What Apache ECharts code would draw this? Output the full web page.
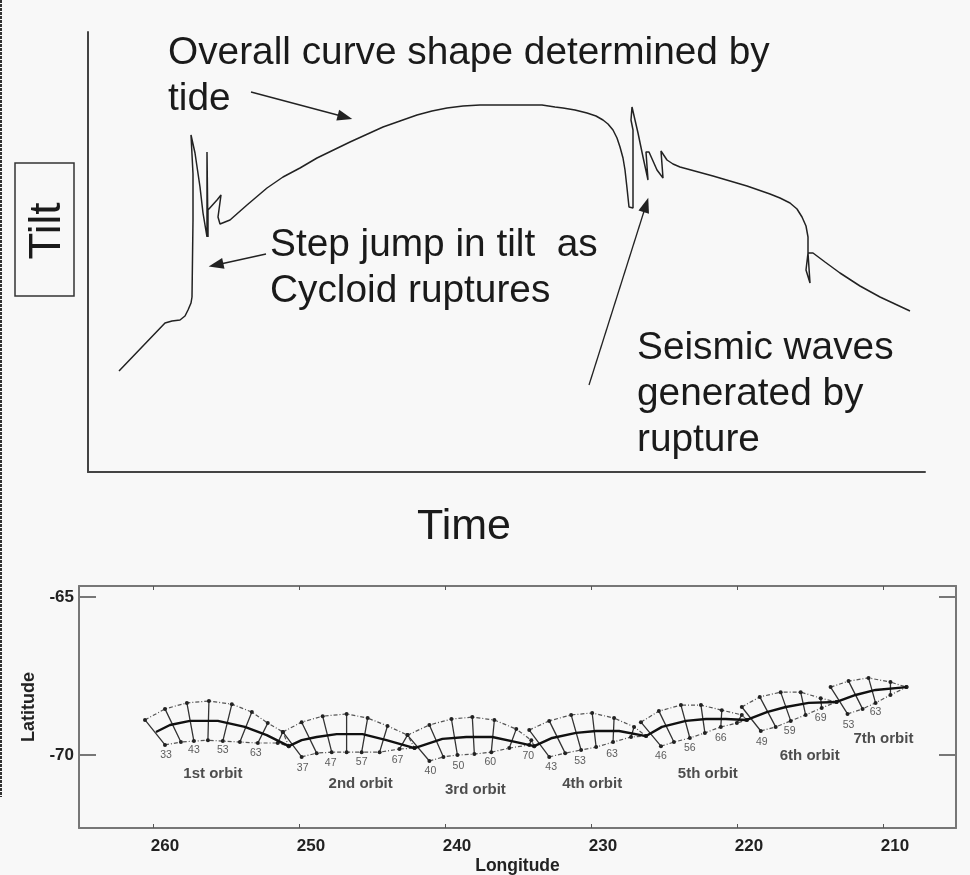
<!DOCTYPE html>
<html><head><meta charset="utf-8">
<style>html,body{margin:0;padding:0;background:#f8f8f8}#c{width:970px;height:875px}</style>
<script src="https://cdn.jsdelivr.net/npm/echarts@6/dist/echarts.min.js"></script>
</head><body><div id="c"></div>
<script>
// Upper panel: schematic tilt curve (arbitrary units)
const tiltCurve = [[31,101],[77,149],[84,151],[92,152],[97,156],[100,162],[103,169],[104,175],[105,252],[105,298],[103,298],[103,337],[105,338],[107,319],[112,285],[115,259],[119,235],[119,320],[120,320],[120,235],[120,262],[129,272],[133,277],[134,277],[130,255],[132,248],[142,252],[159,267],[179,284],[195,295],[212,304],[229,314],[262,330],[295,345],[312,351],[329,357],[344,361],[359,364],[375,366],[392,367],[454,367],[467,365],[475,364],[487,362],[499,359],[508,356],[515,352],[520,348],[525,342],[529,334],[532,325],[535,314],[537,302],[539,284],[541,265],[545,264],[545,342],[543,352],[544,365],[546,365],[550,339],[555,315],[560,292],[558,320],[561,320],[569,302],[575,294],[573,321],[579,312],[585,308],[592,305],[625,296],[659,286],[682,278],[692,274],[702,269],[709,263],[714,255],[718,246],[720,235],[720,219],[718,217],[718,202],[722,189],[720,219],[725,219],[737,210],[752,199],[772,186],[792,175],[807,168],[822,161]];
const tideArrow = [[163,380],[257,355]];
const stepArrow = [[178,218],[128,207]];
const seismicArrow = [[501,87],[558,267]];

// Lower panel: orbit tracks [longitude, latitude]
const orbit1Center = [[259.80,-69.27],[258.84,-69.05],[257.47,-68.92],[255.56,-68.92],[253.71,-69.11],[252.21,-69.37],[250.70,-69.72]];
const orbit1Upper = [[260.55,-68.89],[259.18,-68.54],[257.68,-68.35],[256.17,-68.29],[254.60,-68.39],[253.23,-68.64],[252.14,-68.99],[251.11,-69.27],[250.70,-69.72]];
const orbit1Lower = [[259.18,-69.68],[258.09,-69.59],[257.20,-69.56],[256.24,-69.53],[255.22,-69.56],[254.05,-69.59],[252.82,-69.62],[251.46,-69.62],[250.70,-69.72]];
const orbit2Center = [[250.70,-69.72],[249.82,-69.53],[248.79,-69.43],[247.42,-69.34],[245.65,-69.34],[244.01,-69.53],[242.09,-69.78]];
const orbit2Upper = [[251.11,-69.27],[249.82,-68.96],[248.38,-68.77],[246.74,-68.70],[245.30,-68.83],[243.94,-69.08],[242.57,-69.37],[242.09,-69.78]];
const orbit2Lower = [[249.82,-70.06],[248.79,-69.94],[247.76,-69.91],[246.74,-69.91],[245.71,-69.91],[244.48,-69.91],[243.12,-69.81],[242.09,-69.78]];
const orbit3Center = [[242.09,-69.78],[240.18,-69.49],[238.54,-69.43],[236.76,-69.43],[235.12,-69.59],[233.89,-69.72]];
const orbit3Upper = [[242.57,-69.37],[241.07,-69.05],[239.56,-68.86],[238.13,-68.80],[236.62,-68.89],[235.12,-69.18],[234.09,-69.53],[233.89,-69.72]];
const orbit3Lower = [[241.07,-70.19],[240.11,-70.06],[239.15,-70.00],[237.99,-69.97],[236.83,-69.91],[235.60,-69.78],[234.23,-69.68],[233.89,-69.72]];
const orbit4Center = [[233.89,-69.72],[232.66,-69.46],[231.02,-69.30],[229.65,-69.24],[228.08,-69.24],[226.23,-69.40]];
const orbit4Upper = [[234.23,-69.21],[232.86,-68.92],[231.36,-68.73],[229.92,-68.67],[228.42,-68.83],[227.05,-69.11],[226.23,-69.40]];
const orbit4Lower = [[232.86,-70.06],[231.77,-69.94],[230.68,-69.84],[229.65,-69.75],[228.49,-69.59],[227.26,-69.43],[226.23,-69.40]];
const orbit5Center = [[226.23,-69.40],[225.14,-69.11],[223.50,-68.92],[222.13,-68.86],[220.77,-68.86],[219.33,-68.89]];
const orbit5Upper = [[226.58,-68.96],[225.35,-68.61],[223.84,-68.42],[222.47,-68.42],[221.04,-68.58],[219.67,-68.73],[219.33,-68.89]];
const orbit5Lower = [[225.21,-69.72],[224.32,-69.59],[223.23,-69.46],[222.20,-69.30],[221.11,-69.11],[220.01,-68.99],[219.33,-68.89]];
const orbit6Center = [[219.33,-68.89],[217.96,-68.64],[216.66,-68.48],[215.09,-68.35],[213.18,-68.32]];
const orbit6Upper = [[219.67,-68.48],[218.44,-68.16],[217.01,-68.01],[215.64,-68.01],[214.27,-68.20],[213.18,-68.32]];
const orbit6Lower = [[218.37,-69.24],[217.35,-69.11],[216.32,-68.92],[215.30,-68.73],[214.20,-68.51],[213.18,-68.32]];
const orbit7Center = [[213.18,-68.32],[211.88,-68.10],[210.51,-67.94],[208.39,-67.85]];
const orbit7Upper = [[213.59,-67.85],[212.36,-67.66],[210.99,-67.56],[209.49,-67.69],[208.39,-67.85]];
const orbit7Lower = [[212.43,-68.70],[211.40,-68.54],[210.51,-68.35],[209.49,-68.10],[208.39,-67.85]];
const orbitCenters = [orbit1Center,orbit2Center,orbit3Center,orbit4Center,orbit5Center,orbit6Center,orbit7Center];
const orbitUppers = [orbit1Upper,orbit2Upper,orbit3Upper,orbit4Upper,orbit5Upper,orbit6Upper,orbit7Upper];
const orbitLowers = [orbit1Lower,orbit2Lower,orbit3Lower,orbit4Lower,orbit5Lower,orbit6Lower,orbit7Lower];

const numberLabels = [[259.11,-70.00,'33'],[257.20,-69.84,'43'],[255.22,-69.84,'53'],[252.96,-69.94,'63'],
 [249.75,-70.41,'37'],[247.83,-70.25,'47'],[245.71,-70.22,'57'],[243.25,-70.16,'67'],
 [241.00,-70.51,'40'],[239.08,-70.35,'50'],[236.90,-70.22,'60'],[234.30,-70.03,'70'],
 [232.73,-70.38,'43'],[230.75,-70.19,'53'],[228.56,-69.97,'63'],
 [225.21,-70.03,'46'],[223.23,-69.78,'56'],[221.11,-69.46,'66'],
 [218.30,-69.59,'49'],[216.39,-69.24,'59'],[214.27,-68.83,'69'],
 [212.36,-69.05,'53'],[210.51,-68.64,'63']];
const orbitLabels = [[255.90,-70.60,'1st orbit'],[245.78,-70.92,'2nd orbit'],[237.92,-71.11,'3rd orbit'],[229.92,-70.92,'4th orbit'],[222.00,-70.60,'5th orbit'],[215.02,-70.03,'6th orbit'],[209.97,-69.49,'7th orbit']];
const lonTicks = [260,250,240,230,220,210];
const latTicks = [-70,-65];

const FONT = '"Liberation Sans", Arial, sans-serif';
const frame = {lineStyle:{color:'#777',width:2}};

function arrow(pts){
  return {silent:true,symbol:['none','triangle'],symbolSize:[11,15],animation:false,label:{show:false},
    lineStyle:{color:'#222',width:1.3,type:'solid'},
    data:[[{coord:pts[0]},{coord:pts[1]}]]};
}
function annotation(text,left,top){
  return {type:'text',left,top,style:{text,font:'38.8px '+FONT,fill:'#1a1a1a',lineHeight:46}};
}

const series = [{
  type:'line',xAxisIndex:0,yAxisIndex:0,data:tiltCurve,showSymbol:false,smooth:false,
  lineStyle:{color:'#222',width:1.5},
  markLine:arrow(tideArrow)
},{
  type:'line',xAxisIndex:0,yAxisIndex:0,data:[],showSymbol:false,markLine:arrow(stepArrow)
},{
  type:'line',xAxisIndex:0,yAxisIndex:0,data:[],showSymbol:false,markLine:arrow(seismicArrow)
}];

orbitCenters.forEach((c,i)=>{
  const up=orbitUppers[i], lo=orbitLowers[i], ribs=[];
  up.forEach((u,k)=>{ if(lo[k]){ ribs.push(u,lo[k],[null,null]); } });
  series.push({type:'line',xAxisIndex:1,yAxisIndex:1,data:ribs,showSymbol:false,connectNulls:false,lineStyle:{color:'#333',width:1.3}});
  [up,lo].forEach(d=>series.push({type:'line',xAxisIndex:1,yAxisIndex:1,data:d,symbol:'circle',symbolSize:4,showSymbol:true,
    itemStyle:{color:'#222'},lineStyle:{color:'#555',width:1.2,type:[4,2,1,2]}}));
  series.push({type:'line',xAxisIndex:1,yAxisIndex:1,data:c,showSymbol:false,z:5,lineStyle:{color:'#111',width:2.4}});
});
function textSeries(rows,size,weight,color){
  return {type:'scatter',xAxisIndex:1,yAxisIndex:1,symbolSize:0,z:6,data:rows.map(r=>({value:[r[0],r[1]],name:r[2]})),
    label:{show:true,position:'inside',formatter:p=>p.name,fontFamily:FONT,fontSize:size,fontWeight:weight,color}};
}
series.push(textSeries(numberLabels,10.5,'normal','#333'));
series.push(textSeries(orbitLabels,15,'bold','#222'));

const chart = echarts.init(document.getElementById('c'),null,{renderer:'canvas'});
chart.setOption({
  animation:false,
  backgroundColor:'#f8f8f8',
  grid:[{left:88,top:32,width:837,height:440,outerBoundsMode:'none'},{left:79,top:586,width:877,height:242,outerBoundsMode:'none'}],
  xAxis:[{
    type:'value',gridIndex:0,min:0,max:837,splitLine:{show:false},axisTick:{show:false},axisLabel:{show:false},
    axisLine:{onZero:false,lineStyle:{color:'#444',width:2}}
  },{
    type:'value',gridIndex:1,position:'bottom',inverse:true,min:205,max:265.07,splitLine:{show:false},
    axisLine:{onZero:false,...frame},
    axisTick:{inside:true,length:4,lineStyle:{color:'#555',width:1},customValues:lonTicks},
    axisLabel:{customValues:lonTicks,fontFamily:FONT,fontSize:17,fontWeight:'bold',color:'#222',margin:10,padding:[0,0,0,24]},
    name:'Longitude',nameLocation:'middle',nameGap:29,nameTextStyle:{fontFamily:FONT,fontSize:17.5,fontWeight:'bold',color:'#222'}
  },{
    type:'value',gridIndex:1,position:'top',inverse:true,min:205,max:265.07,splitLine:{show:false},
    axisLine:{onZero:false,...frame},
    axisTick:{inside:true,length:4,lineStyle:{color:'#555',width:1},customValues:lonTicks},
    axisLabel:{show:false}
  }],
  yAxis:[{
    type:'value',gridIndex:0,min:0,max:440,splitLine:{show:false},axisTick:{show:false},axisLabel:{show:false},
    axisLine:{onZero:false,lineStyle:{color:'#444',width:2}}
  },{
    type:'value',gridIndex:1,position:'left',min:-72.31,max:-64.65,splitLine:{show:false},
    axisLine:{onZero:false,...frame},
    axisTick:{inside:true,length:17,lineStyle:{color:'#777',width:2},customValues:latTicks},
    axisLabel:{customValues:latTicks,fontFamily:FONT,fontSize:17,fontWeight:'bold',color:'#222',margin:5},
    name:'Latitude',nameLocation:'middle',nameGap:40,nameTextStyle:{fontFamily:FONT,fontSize:18,fontWeight:'bold',color:'#222'}
  },{
    type:'value',gridIndex:1,position:'right',min:-72.31,max:-64.65,splitLine:{show:false},
    axisLine:{onZero:false,...frame},
    axisTick:{inside:true,length:17,lineStyle:{color:'#777',width:2},customValues:latTicks},
    axisLabel:{show:false}
  }],
  series,
  graphic:[
    {type:'rect',shape:{x:15,y:163,width:59,height:133},style:{fill:'none',stroke:'#333',lineWidth:1.5}},
    {type:'line',shape:{x1:1,y1:0,x2:1,y2:797},style:{stroke:'#333',lineWidth:2,lineDash:[3,1]}},
    {type:'text',x:48,y:231,rotation:Math.PI/2,style:{text:'Tilt',font:'44px '+FONT,fill:'#1a1a1a',align:'center',verticalAlign:'middle'}},
    {type:'text',x:464,y:527,style:{text:'Time',font:'43px '+FONT,fill:'#1a1a1a',align:'center',verticalAlign:'middle'}},
    annotation('Overall curve shape determined by\ntide',168,30),
    annotation('Step jump in tilt  as\nCycloid ruptures',270,222),
    annotation('Seismic waves\ngenerated by\nrupture',637,325)
  ]
});
</script></body></html>
